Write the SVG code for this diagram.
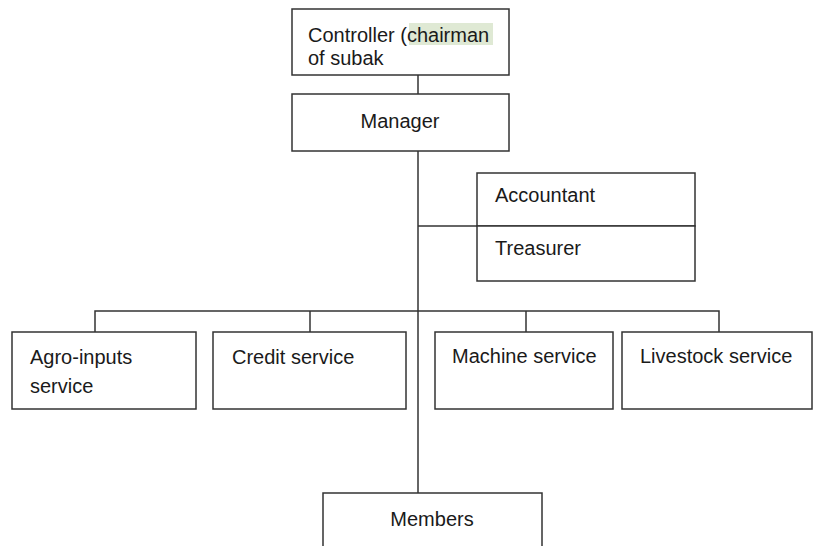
<svg xmlns="http://www.w3.org/2000/svg" width="813" height="546" viewBox="0 0 813 546">
<style>
.box{fill:#fff;stroke:#333;stroke-width:1.5}
.ln{fill:none;stroke:#333;stroke-width:1.5}
text{font-family:"Liberation Sans",Arial,sans-serif;fill:#1a1a1a;font-size:20px}
</style>
<rect width="813" height="546" fill="#fff"/>
<g id="connectors">
<line class="ln" x1="418" y1="68" x2="418" y2="94"/>
<line class="ln" x1="418" y1="151" x2="418" y2="493"/>
<line class="ln" x1="418" y1="226" x2="477" y2="226"/>
<polyline class="ln" points="95,332 95,311 719,311 719,332"/>
<line class="ln" x1="310" y1="311" x2="310" y2="332"/>
<line class="ln" x1="526" y1="311" x2="526" y2="332"/>
</g>
<g id="controller">
<rect class="box" x="292" y="9" width="217" height="66"/>
<rect x="409" y="23" width="84" height="22" fill="#dfe9d4"/>
<text x="308" y="42" font-size="20.4">Controller (chairman</text>
<text x="308" y="65" font-size="20.4">of subak</text>
</g>
<g id="manager">
<rect class="box" x="292" y="94" width="217" height="57"/>
<text x="400" y="128" text-anchor="middle" font-size="22">Manager</text>
</g>
<g id="accountant">
<rect class="box" x="477" y="173" width="218" height="53"/>
<text x="495" y="202" font-size="19">Accountant</text>
</g>
<g id="treasurer">
<rect class="box" x="477" y="226" width="218" height="55"/>
<text x="495" y="255" font-size="19">Treasurer</text>
</g>
<g id="agro">
<rect class="box" x="12" y="332" width="184" height="77"/>
<text x="30" y="364" font-size="22">Agro-inputs</text>
<text x="30" y="393" font-size="22">service</text>
</g>
<g id="credit">
<rect class="box" x="213" y="332" width="193" height="77"/>
<text x="232" y="364" font-size="21.5">Credit service</text>
</g>
<g id="machine">
<rect class="box" x="435" y="332" width="178" height="77"/>
<text x="452" y="363" font-size="19">Machine service</text>
</g>
<g id="livestock">
<rect class="box" x="622" y="332" width="190" height="77"/>
<text x="640" y="363" font-size="18.5">Livestock service</text>
</g>
<g id="members">
<rect class="box" x="323" y="493" width="219" height="70"/>
<text x="432" y="526" text-anchor="middle" font-size="22">Members</text>
</g>
</svg>
